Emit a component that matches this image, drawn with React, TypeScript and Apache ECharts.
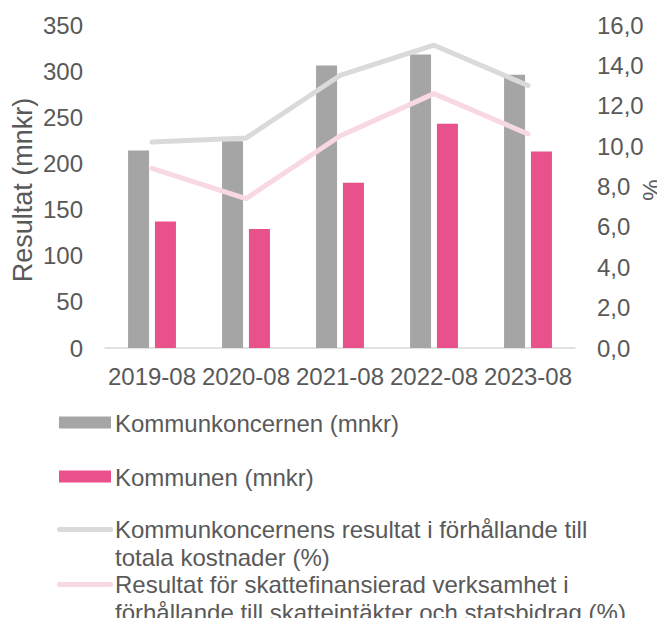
import React, { useEffect, useRef } from "react";
import * as echarts from "echarts";

const categories = ["2019-08", "2020-08", "2021-08", "2022-08", "2023-08"];
const koncernen = [214, 224, 306, 318, 296];
const kommunen = [137, 129, 179, 243, 213];
const koncernenPct = [10.2, 10.4, 13.5, 15.0, 13.0];
const skattePct = [8.9, 7.4, 10.5, 12.6, 10.6];

const seriesNames = [
  "Kommunkoncernen (mnkr)",
  "Kommunen (mnkr)",
  "Kommunkoncernens resultat i förhållande till\ntotala kostnader (%)",
  "Resultat för skattefinansierad verksamhet i\nförhållande till skatteintäkter och statsbidrag (%)",
];

const TEXT = "#595959";
const GRAY_BAR = "#A5A5A5";
const PINK_BAR = "#E9518C";
const GRAY_LINE = "#DADADA";
const PINK_LINE = "#F8D8E5";
const FONT = "'Liberation Sans', Arial, sans-serif";
const LH = 27.5;

export default function App() {
  const ref = useRef<HTMLDivElement>(null);
  useEffect(() => {
    if (!ref.current) return;
    const chart = echarts.init(ref.current, undefined, { renderer: "svg" });
    const txt = (x: number, y: number, text: string) => ({
      type: "text",
      x,
      y,
      style: {
        text,
        fill: TEXT,
        font: `24px ${FONT}`,
        lineHeight: LH,
        verticalAlign: "top",
        align: "left",
      },
    });
    chart.setOption({
      animation: false,
      textStyle: { fontFamily: FONT },
      grid: { left: 105, right: 90, top: 25, bottom: 278, containLabel: false },
      xAxis: {
        type: "category",
        data: categories,
        axisLine: { lineStyle: { color: "#D9D9D9", width: 1.5 } },
        axisTick: { show: false },
        axisLabel: {
          color: TEXT,
          fontSize: 24,
          margin: 16,
          fontFamily: FONT,
          interval: 0,
          hideOverlap: false,
        },
      },
      yAxis: [
        {
          type: "value",
          min: 0,
          max: 350,
          interval: 50,
          splitLine: { show: false },
          axisLine: { show: false },
          axisTick: { show: false },
          axisLabel: { color: TEXT, fontSize: 24, margin: 22, fontFamily: FONT },
        },
        {
          type: "value",
          min: 0,
          max: 16,
          interval: 2,
          position: "right",
          splitLine: { show: false },
          axisLine: { show: false },
          axisTick: { show: false },
          axisLabel: {
            color: TEXT,
            fontSize: 24,
            margin: 22,
            fontFamily: FONT,
            formatter: (v: number) => v.toFixed(1).replace(".", ","),
          },
        },
      ],
      series: [
        {
          name: seriesNames[0],
          type: "bar",
          data: koncernen,
          barWidth: 21,
          barGap: "28%",
          itemStyle: { color: GRAY_BAR },
          z: 2,
        },
        {
          name: seriesNames[1],
          type: "bar",
          data: kommunen,
          barWidth: 21,
          barGap: "28%",
          itemStyle: { color: PINK_BAR },
          z: 2,
        },
        {
          name: seriesNames[2],
          type: "line",
          yAxisIndex: 1,
          data: koncernenPct,
          symbol: "none",
          lineStyle: { color: GRAY_LINE, width: 5, cap: "round", join: "round" },
          z: 3,
        },
        {
          name: seriesNames[3],
          type: "line",
          yAxisIndex: 1,
          data: skattePct,
          symbol: "none",
          lineStyle: { color: PINK_LINE, width: 5, cap: "round", join: "round" },
          z: 3,
        },
      ],
      graphic: [
        {
          type: "text",
          x: 23,
          y: 190,
          rotation: Math.PI / 2,
          style: {
            text: "Resultat (mnkr)",
            fill: TEXT,
            font: `27px ${FONT}`,
            align: "center",
            verticalAlign: "middle",
          },
        },
        {
          type: "text",
          x: 651,
          y: 190,
          rotation: Math.PI / 2,
          style: {
            text: "%",
            fill: TEXT,
            font: `24px ${FONT}`,
            align: "center",
            verticalAlign: "middle",
          },
        },
        { type: "rect", shape: { x: 59, y: 416.5, width: 52, height: 12 }, style: { fill: GRAY_BAR } },
        { type: "rect", shape: { x: 59, y: 470.5, width: 52, height: 12 }, style: { fill: PINK_BAR } },
        {
          type: "line",
          shape: { x1: 59.5, y1: 529.5, x2: 110.5, y2: 529.5 },
          style: { stroke: GRAY_LINE, lineWidth: 5, lineCap: "round" },
        },
        {
          type: "line",
          shape: { x1: 59.5, y1: 584.5, x2: 110.5, y2: 584.5 },
          style: { stroke: PINK_LINE, lineWidth: 5, lineCap: "round" },
        },
        txt(115, 423 - LH / 2, seriesNames[0]),
        txt(115, 477 - LH / 2, seriesNames[1]),
        txt(115, 529.5 - LH / 2, seriesNames[2]),
        txt(115, 584.5 - LH / 2, seriesNames[3]),
      ],
    });
    return () => chart.dispose();
  }, []);
  return <div ref={ref} style={{ width: 665, height: 626, margin: -8 }} />;
}
